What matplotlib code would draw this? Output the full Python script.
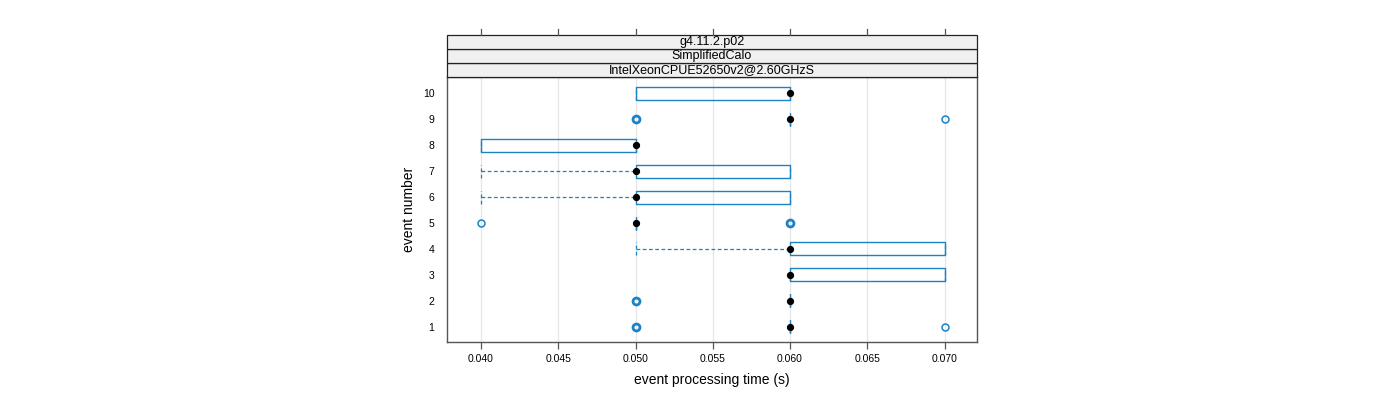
import matplotlib.pyplot as plt
from matplotlib.patches import Rectangle

plt.rcParams['font.family'] = ['Liberation Sans', 'DejaVu Sans']

events = [1, 2, 3, 4, 5, 6, 7, 8, 9, 10]
whisker_lo = [0.06, 0.06, 0.06, 0.05, 0.05, 0.04, 0.04, 0.04, 0.06, 0.05]
q1 = [0.06, 0.06, 0.06, 0.06, 0.05, 0.05, 0.05, 0.04, 0.06, 0.05]
median = [0.06, 0.06, 0.06, 0.06, 0.05, 0.05, 0.05, 0.05, 0.06, 0.06]
q3 = [0.06, 0.06, 0.07, 0.07, 0.05, 0.06, 0.06, 0.05, 0.06, 0.06]
whisker_hi = [0.06, 0.06, 0.07, 0.07, 0.05, 0.06, 0.06, 0.05, 0.06, 0.06]
outliers = [[0.05, 0.07], [0.05], [], [], [0.04, 0.06], [], [], [], [0.05, 0.07], []]
# outliers that are repeated several times are drawn thicker
heavy = [[True, False], [True], [], [], [False, True], [], [], [], [True, False], []]

strips = ["g4.11.2.p02", "SimplifiedCalo", "IntelXeonCPUE52650v2@2.60GHzS"]
xticks = [0.040, 0.045, 0.050, 0.055, 0.060, 0.065, 0.070]

blue = "#1b82c4"
frame = "#555555"
box_h = 0.5

fig = plt.figure(figsize=(14, 4), dpi=100)
ax = fig.add_axes([447 / 1400, 58 / 400, 530 / 1400, 265 / 400])

for i, ev in enumerate(events):
    lo, a, m, b, hi = whisker_lo[i], q1[i], median[i], q3[i], whisker_hi[i]
    # whiskers
    if lo < a:
        ax.plot([lo, a], [ev, ev], color=blue, lw=0.9, ls=(0, (3, 2)))
    if hi > b:
        ax.plot([b, hi], [ev, ev], color=blue, lw=0.9, ls=(0, (3, 2)))
    for w in (lo, hi):
        ax.plot([w, w], [ev - box_h / 2, ev + box_h / 2], color=blue, lw=0.9, ls=(0, (3, 2)))
    ax.add_patch(Rectangle((a, ev - box_h / 2), b - a, box_h, fill=False,
                           edgecolor=blue, lw=1.0))
    ax.plot(m, ev, "o", color="black", ms=4.2, zorder=5)
    for x, hv in zip(outliers[i], heavy[i]):
        ax.plot(x, ev, "o", mfc="none", mec=blue, ms=5, mew=2.0 if hv else 1.1, zorder=4)

ax.set_xlim(0.0378, 0.0721)
ax.set_ylim(0.42, 10.62)
ax.set_xticks(xticks)
ax.set_xticklabels([f"{t:.3f}" for t in xticks])
ax.set_yticks(events)
ax.set_yticklabels([str(e) for e in events])
for t in xticks:
    ax.axvline(t, color="#e6e6e6", lw=0.9, zorder=0)

for s in ax.spines.values():
    s.set_color(frame)
    s.set_linewidth(1.0)
ax.tick_params(axis="x", length=5, width=0.9, color=frame, labelsize=7.5, pad=4)
ax.tick_params(axis="y", length=0, labelsize=7.5, pad=9)
ax.set_xlabel("event processing time (s)", fontsize=10, labelpad=6)
ax.set_ylabel("event number", fontsize=10, labelpad=5)

# strips and top ticks
strip_h = 14 / 400
top = 323 / 400
for k, label in enumerate(reversed(strips)):
    y0 = top + k * strip_h
    fig.patches.append(Rectangle((447 / 1400, y0), 530 / 1400, strip_h, transform=fig.transFigure,
                                 facecolor="#f0f0f0", edgecolor="#222222", lw=0.9))
    fig.text((447 + 265) / 1400, y0 + strip_h / 2, label, ha="center", va="center",
             fontsize=9)

x0, x1 = ax.get_xlim()
for t in xticks:
    fx = (447 + (t - x0) / (x1 - x0) * 530) / 1400
    fig.add_artist(plt.Line2D([fx, fx], [top + 3 * strip_h, top + 3 * strip_h + 6 / 400],
                              color=frame, lw=0.9, transform=fig.transFigure))

fig.savefig("out.png", dpi=100)
